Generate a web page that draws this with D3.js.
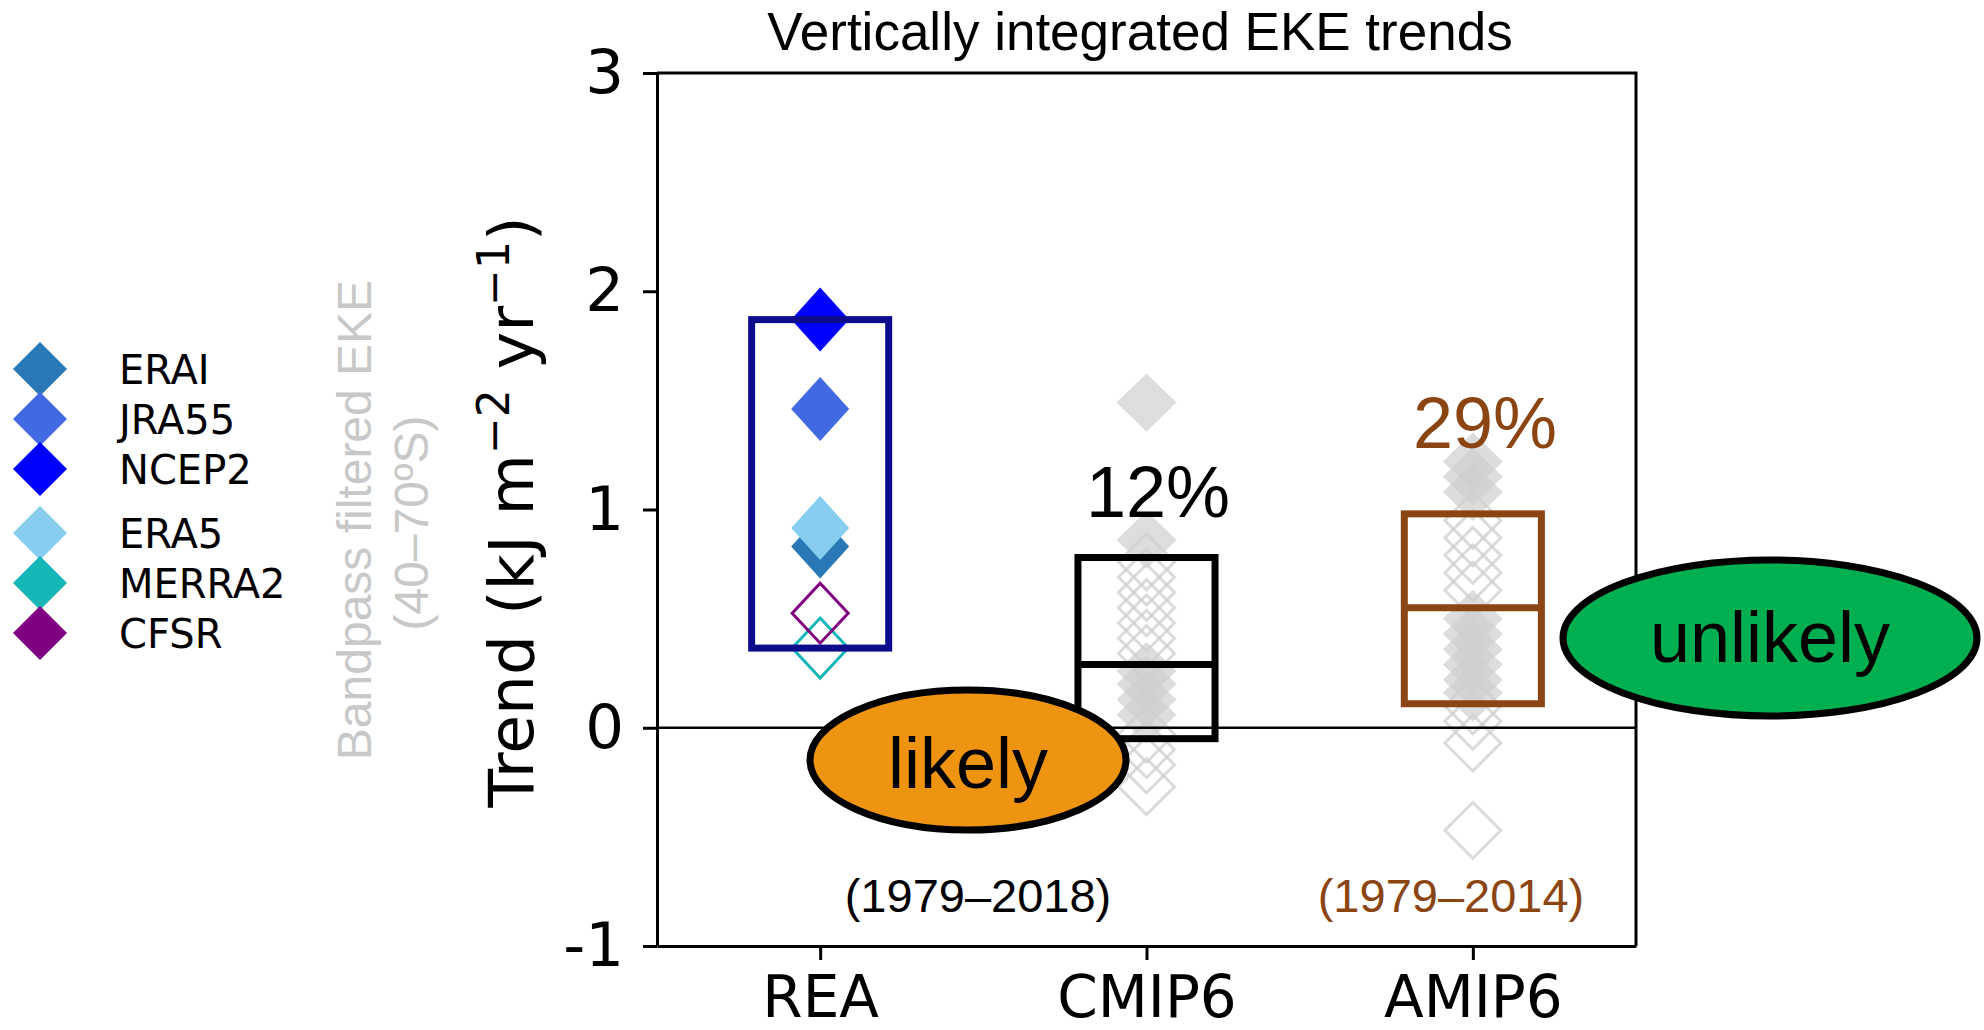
<!DOCTYPE html>
<html>
<head>
<meta charset="utf-8">
<script src="https://cdn.jsdelivr.net/npm/d3@7"></script>
<style>
  body { margin: 0; background: #ffffff; }
  svg { display: block; }
</style>
</head>
<body>
<svg id="chart" width="1984" height="1030"></svg>
<script>
// ---- data -------------------------------------------------------------
const categories = ["REA", "CMIP6", "AMIP6"];

// reanalysis trends (kJ m^-2 yr^-1)
const reaNames  = ["ERAI", "JRA55", "NCEP2", "ERA5", "MERRA2", "CFSR"];
const reaTrends = [0.83, 1.46, 1.87, 0.915, 0.365, 0.525];

// model ensemble trends, split by marker style
const cmip6FilledTrends = [1.49, 0.86, 0.26, 0.20, 0.13, 0.06];
const cmip6OpenTrends   = [0.76, 0.69, 0.62, 0.55, 0.48, 0.41, 0.34,
                           -0.03, -0.10, -0.17, -0.27];
const amip6FilledTrends = [1.22, 1.15, 1.08, 0.50, 0.43, 0.36, 0.29, 0.22, 0.16];
const amip6OpenTrends   = [0.95, 0.87, 0.79, 0.71, 0.63, 0.10, 0.03, -0.07, -0.47];

// ensemble range boxes: [low, median, high]
const cmip6Box = [-0.05, 0.29, 0.78];
const amip6Box = [0.11, 0.55, 0.98];

const yTicks = [-1, 0, 1, 2, 3];
const exceedLabels  = ["12%", "29%"];
const periodLabels  = ["(1979–2018)", "(1979–2014)"];
const verdictLabels = ["likely", "unlikely"];

// ---- styles -------------------------------------------------------------
const reaStyle = {
  ERAI:   { color: "#2a78b6", filled: true  },
  JRA55:  { color: "#4169e1", filled: true  },
  NCEP2:  { color: "#0000ff", filled: true  },
  ERA5:   { color: "#87cdf0", filled: true  },
  MERRA2: { color: "#17b6b6", filled: false },
  CFSR:   { color: "#800080", filled: false }
};
const reaBoxColor = "#0c0c8c";
const brown = "#8b4513";
const grey = "#cfcfcf";

// ---- scales --------------------------------------------------------------
const svg = d3.select("#chart");
const plot = { left: 657, right: 1636, top: 73, bottom: 946 };

const x = d3.scalePoint().domain(categories)
  .range([plot.left, plot.right]).padding(0.5);
const y = d3.scaleLinear().domain([-1, 3]).range([plot.bottom, plot.top]);
const boxW = x.step() * 0.42;

function diamond(cx, cy, hw, hh) {
  return `M${cx},${cy - hh}L${cx + hw},${cy}L${cx},${cy + hh}L${cx - hw},${cy}Z`;
}

svg.append("rect").attr("width", 1984).attr("height", 1030).attr("fill", "#fff");

// ---- title ---------------------------------------------------------------
svg.append("text")
  .attr("x", 1140).attr("y", 50)
  .attr("text-anchor", "middle")
  .attr("font-family", "Liberation Sans, Arial, sans-serif")
  .attr("font-size", 53)
  .attr("fill", "#000")
  .text("Vertically integrated EKE trends");

// ---- ensemble diamonds (grey) ------------------------------------------
const ens = [
  { cat: "CMIP6", filled: cmip6FilledTrends, open: cmip6OpenTrends },
  { cat: "AMIP6", filled: amip6FilledTrends, open: amip6OpenTrends }
];
const gEns = svg.append("g");
ens.forEach(e => {
  gEns.selectAll(null).data(e.filled).enter().append("path")
    .attr("d", v => diamond(x(e.cat), y(v), 30, 29))
    .attr("fill", grey).attr("opacity", 0.7);
  gEns.selectAll(null).data(e.open).enter().append("path")
    .attr("d", v => diamond(x(e.cat), y(v), 28, 28))
    .attr("fill", "none").attr("stroke", grey).attr("stroke-width", 3)
    .attr("opacity", 0.75);
});

// ---- reanalysis diamonds ---------------------------------------------------
const reaOrder = ["MERRA2", "CFSR", "ERAI", "ERA5", "JRA55", "NCEP2"];
svg.append("g").selectAll("path")
  .data(reaOrder.map(n => ({ name: n, v: reaTrends[reaNames.indexOf(n)] })))
  .enter().append("path")
  .attr("d", d => reaStyle[d.name].filled
      ? diamond(x("REA"), y(d.v), 29, 32)
      : diamond(x("REA"), y(d.v), 28, 30))
  .attr("fill", d => reaStyle[d.name].filled ? reaStyle[d.name].color : "none")
  .attr("stroke", d => reaStyle[d.name].filled ? "none" : reaStyle[d.name].color)
  .attr("stroke-width", 3);

// ---- boxes -------------------------------------------------------------------
const reaLo = d3.min(reaTrends), reaHi = d3.max(reaTrends);
svg.append("rect")
  .attr("x", x("REA") - boxW / 2).attr("width", boxW)
  .attr("y", y(reaHi)).attr("height", y(reaLo) - y(reaHi))
  .attr("fill", "none").attr("stroke", reaBoxColor).attr("stroke-width", 7);

[["CMIP6", cmip6Box, "#000"], ["AMIP6", amip6Box, brown]].forEach(([cat, b, col]) => {
  const g = svg.append("g").attr("stroke", col).attr("stroke-width", 7).attr("fill", "none");
  g.append("rect")
    .attr("x", x(cat) - boxW / 2).attr("width", boxW)
    .attr("y", y(b[2])).attr("height", y(b[0]) - y(b[2]));
  g.append("line")
    .attr("x1", x(cat) - boxW / 2).attr("x2", x(cat) + boxW / 2)
    .attr("y1", y(b[1])).attr("y2", y(b[1]));
});

// ---- zero line -------------------------------------------------------------
svg.append("line")
  .attr("x1", plot.left).attr("x2", plot.right)
  .attr("y1", y(0)).attr("y2", y(0))
  .attr("stroke", "#000").attr("stroke-width", 2.5);

// ---- axes ------------------------------------------------------------------
const yAxis = d3.axisLeft(y).tickValues(yTicks).tickSize(14).tickSizeOuter(0).tickPadding(19)
  .tickFormat(d => d < 0 ? "-" + Math.abs(d) : String(d));
const gy = svg.append("g").attr("transform", `translate(${plot.left},0)`).call(yAxis);
gy.selectAll("text").attr("font-family", "DejaVu Sans, sans-serif").attr("font-size", 61).attr("fill", "#000");

const xAxis = d3.axisBottom(x).tickSize(14).tickSizeOuter(0).tickPadding(16);
const gx = svg.append("g").attr("transform", `translate(0,${plot.bottom})`).call(xAxis);
gx.selectAll("text").attr("font-family", "DejaVu Sans, sans-serif").attr("font-size", 58).attr("fill", "#000");

[gx, gy].forEach(g => {
  g.selectAll(".domain").attr("stroke", "#000").attr("stroke-width", 3);
  g.selectAll(".tick line").attr("stroke", "#000").attr("stroke-width", 3);
});
svg.append("path")
  .attr("d", `M${plot.left},${plot.top}H${plot.right}V${plot.bottom}`)
  .attr("fill", "none").attr("stroke", "#000").attr("stroke-width", 3);

// ---- y-axis titles -----------------------------------------------------------
const yl = svg.append("text")
  .attr("transform", "translate(533,512) rotate(-90)")
  .attr("text-anchor", "middle")
  .attr("font-family", "DejaVu Sans, sans-serif")
  .attr("font-size", 63).attr("fill", "#000");
yl.append("tspan").text("Trend (kJ m");
yl.append("tspan").attr("dy", -24).attr("font-size", 44).text("\u22122");
yl.append("tspan").attr("dy", 24).text(" yr");
yl.append("tspan").attr("dy", -24).attr("font-size", 44).text("\u22121");
yl.append("tspan").attr("dy", 24).text(")");

const gl = svg.append("g")
  .attr("font-family", "Liberation Sans, Arial, sans-serif")
  .attr("font-size", 48).attr("fill", "#c8c8c8").attr("text-anchor", "middle");
gl.append("text").attr("transform", "translate(371,520) rotate(-90)").text("Bandpass filtered EKE");
gl.append("text").attr("transform", "translate(428,523) rotate(-90)").text("(40–70ºS)");

// ---- legend ------------------------------------------------------------------
const leg = svg.append("g");
reaNames.forEach((n, i) => {
  const base = 384 + i * 50 + (i >= 3 ? 14 : 0);
  leg.append("path").attr("d", diamond(40, base - 15, 27, 27)).attr("fill", reaStyle[n].color);
  leg.append("text").attr("x", 119).attr("y", base)
    .attr("font-family", "DejaVu Sans, sans-serif").attr("font-size", 40).attr("fill", "#000")
    .text(n);
});

// ---- annotations ---------------------------------------------------------------
const ann = svg.append("g").attr("font-family", "Liberation Sans, Arial, sans-serif").attr("text-anchor", "middle");
ann.append("text").attr("x", 1158).attr("y", 517).attr("font-size", 72).attr("fill", "#000").text(exceedLabels[0]);
ann.append("text").attr("x", 1485).attr("y", 448).attr("font-size", 72).attr("fill", brown).text(exceedLabels[1]);
ann.append("text").attr("x", 978).attr("y", 912).attr("font-size", 47).attr("fill", "#000").text(periodLabels[0]);
ann.append("text").attr("x", 1451).attr("y", 912).attr("font-size", 47).attr("fill", brown).text(periodLabels[1]);

const verdicts = [
  { cx: 968,  cy: 760, rx: 158, ry: 70, fill: "#ef9410", label: verdictLabels[0], ty: 788 },
  { cx: 1770, cy: 638, rx: 207, ry: 78, fill: "#00b050", label: verdictLabels[1], ty: 662 }
];
verdicts.forEach(v => {
  ann.append("ellipse").attr("cx", v.cx).attr("cy", v.cy).attr("rx", v.rx).attr("ry", v.ry)
    .attr("fill", v.fill).attr("stroke", "#000").attr("stroke-width", 7);
  ann.append("text").attr("x", v.cx).attr("y", v.ty).attr("font-size", 72).attr("fill", "#000").text(v.label);
});
</script>
</body>
</html>
